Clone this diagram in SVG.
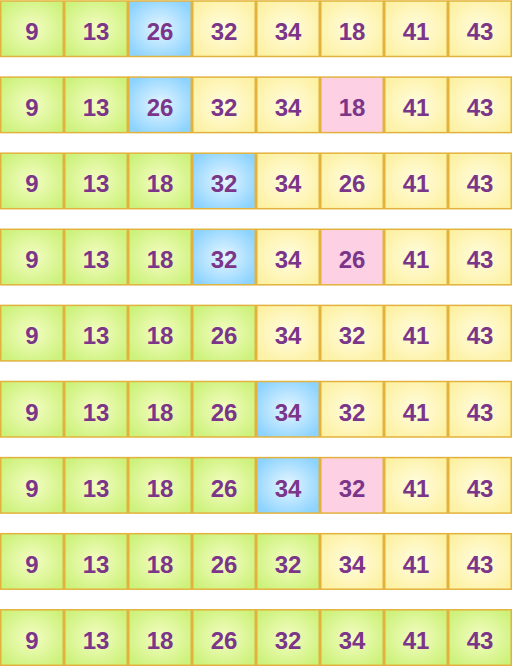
<svg xmlns="http://www.w3.org/2000/svg" width="512" height="668" viewBox="0 0 512 668">
<defs>
<radialGradient id="gg" cx="50%" cy="50%" r="60%"><stop offset="0" stop-color="#f4fdc4"/><stop offset="1" stop-color="#cdf27c"/></radialGradient>
<radialGradient id="gy" cx="50%" cy="50%" r="60%"><stop offset="0" stop-color="#fffde0"/><stop offset="1" stop-color="#fdf1a4"/></radialGradient>
<radialGradient id="gb" cx="50%" cy="50%" r="60%"><stop offset="0" stop-color="#e6f6ff"/><stop offset="1" stop-color="#8cd3ff"/></radialGradient>
<style>
rect{stroke:#e2b23c;stroke-width:1.5}
.g rect{fill:url(#gg)}
.y rect{fill:url(#gy)}
.b rect{fill:url(#gb)}
.p rect{fill:#fdd0e4}
text{font-family:"Liberation Sans",Arial,sans-serif;font-weight:bold;font-size:24px;fill:#7b3589;text-anchor:middle}
</style>
</defs>
<g id="r1" transform="translate(0,1)">
<g id="r1c1" class="g"><rect x="0.75" y="0" width="62.5" height="55.5"/><text x="32" y="39">9</text></g>
<g id="r1c2" class="g"><rect x="64.75" y="0" width="62.5" height="55.5"/><text x="96" y="39">13</text></g>
<g id="r1c3" class="b"><rect x="128.75" y="0" width="62.5" height="55.5"/><text x="160" y="39">26</text></g>
<g id="r1c4" class="y"><rect x="192.75" y="0" width="62.5" height="55.5"/><text x="224" y="39">32</text></g>
<g id="r1c5" class="y"><rect x="256.75" y="0" width="62.5" height="55.5"/><text x="288" y="39">34</text></g>
<g id="r1c6" class="y"><rect x="320.75" y="0" width="62.5" height="55.5"/><text x="352" y="39">18</text></g>
<g id="r1c7" class="y"><rect x="384.75" y="0" width="62.5" height="55.5"/><text x="416" y="39">41</text></g>
<g id="r1c8" class="y"><rect x="448.75" y="0" width="62.5" height="55.5"/><text x="480" y="39">43</text></g>
</g>
<g id="r2" transform="translate(0,77.1)">
<g id="r2c1" class="g"><rect x="0.75" y="0" width="62.5" height="55.5"/><text x="32" y="39">9</text></g>
<g id="r2c2" class="g"><rect x="64.75" y="0" width="62.5" height="55.5"/><text x="96" y="39">13</text></g>
<g id="r2c3" class="b"><rect x="128.75" y="0" width="62.5" height="55.5"/><text x="160" y="39">26</text></g>
<g id="r2c4" class="y"><rect x="192.75" y="0" width="62.5" height="55.5"/><text x="224" y="39">32</text></g>
<g id="r2c5" class="y"><rect x="256.75" y="0" width="62.5" height="55.5"/><text x="288" y="39">34</text></g>
<g id="r2c6" class="p"><rect x="320.75" y="0" width="62.5" height="55.5"/><text x="352" y="39">18</text></g>
<g id="r2c7" class="y"><rect x="384.75" y="0" width="62.5" height="55.5"/><text x="416" y="39">41</text></g>
<g id="r2c8" class="y"><rect x="448.75" y="0" width="62.5" height="55.5"/><text x="480" y="39">43</text></g>
</g>
<g id="r3" transform="translate(0,153.2)">
<g id="r3c1" class="g"><rect x="0.75" y="0" width="62.5" height="55.5"/><text x="32" y="39">9</text></g>
<g id="r3c2" class="g"><rect x="64.75" y="0" width="62.5" height="55.5"/><text x="96" y="39">13</text></g>
<g id="r3c3" class="g"><rect x="128.75" y="0" width="62.5" height="55.5"/><text x="160" y="39">18</text></g>
<g id="r3c4" class="b"><rect x="192.75" y="0" width="62.5" height="55.5"/><text x="224" y="39">32</text></g>
<g id="r3c5" class="y"><rect x="256.75" y="0" width="62.5" height="55.5"/><text x="288" y="39">34</text></g>
<g id="r3c6" class="y"><rect x="320.75" y="0" width="62.5" height="55.5"/><text x="352" y="39">26</text></g>
<g id="r3c7" class="y"><rect x="384.75" y="0" width="62.5" height="55.5"/><text x="416" y="39">41</text></g>
<g id="r3c8" class="y"><rect x="448.75" y="0" width="62.5" height="55.5"/><text x="480" y="39">43</text></g>
</g>
<g id="r4" transform="translate(0,229.3)">
<g id="r4c1" class="g"><rect x="0.75" y="0" width="62.5" height="55.5"/><text x="32" y="39">9</text></g>
<g id="r4c2" class="g"><rect x="64.75" y="0" width="62.5" height="55.5"/><text x="96" y="39">13</text></g>
<g id="r4c3" class="g"><rect x="128.75" y="0" width="62.5" height="55.5"/><text x="160" y="39">18</text></g>
<g id="r4c4" class="b"><rect x="192.75" y="0" width="62.5" height="55.5"/><text x="224" y="39">32</text></g>
<g id="r4c5" class="y"><rect x="256.75" y="0" width="62.5" height="55.5"/><text x="288" y="39">34</text></g>
<g id="r4c6" class="p"><rect x="320.75" y="0" width="62.5" height="55.5"/><text x="352" y="39">26</text></g>
<g id="r4c7" class="y"><rect x="384.75" y="0" width="62.5" height="55.5"/><text x="416" y="39">41</text></g>
<g id="r4c8" class="y"><rect x="448.75" y="0" width="62.5" height="55.5"/><text x="480" y="39">43</text></g>
</g>
<g id="r5" transform="translate(0,305.4)">
<g id="r5c1" class="g"><rect x="0.75" y="0" width="62.5" height="55.5"/><text x="32" y="39">9</text></g>
<g id="r5c2" class="g"><rect x="64.75" y="0" width="62.5" height="55.5"/><text x="96" y="39">13</text></g>
<g id="r5c3" class="g"><rect x="128.75" y="0" width="62.5" height="55.5"/><text x="160" y="39">18</text></g>
<g id="r5c4" class="g"><rect x="192.75" y="0" width="62.5" height="55.5"/><text x="224" y="39">26</text></g>
<g id="r5c5" class="y"><rect x="256.75" y="0" width="62.5" height="55.5"/><text x="288" y="39">34</text></g>
<g id="r5c6" class="y"><rect x="320.75" y="0" width="62.5" height="55.5"/><text x="352" y="39">32</text></g>
<g id="r5c7" class="y"><rect x="384.75" y="0" width="62.5" height="55.5"/><text x="416" y="39">41</text></g>
<g id="r5c8" class="y"><rect x="448.75" y="0" width="62.5" height="55.5"/><text x="480" y="39">43</text></g>
</g>
<g id="r6" transform="translate(0,381.5)">
<g id="r6c1" class="g"><rect x="0.75" y="0" width="62.5" height="55.5"/><text x="32" y="39">9</text></g>
<g id="r6c2" class="g"><rect x="64.75" y="0" width="62.5" height="55.5"/><text x="96" y="39">13</text></g>
<g id="r6c3" class="g"><rect x="128.75" y="0" width="62.5" height="55.5"/><text x="160" y="39">18</text></g>
<g id="r6c4" class="g"><rect x="192.75" y="0" width="62.5" height="55.5"/><text x="224" y="39">26</text></g>
<g id="r6c5" class="b"><rect x="256.75" y="0" width="62.5" height="55.5"/><text x="288" y="39">34</text></g>
<g id="r6c6" class="y"><rect x="320.75" y="0" width="62.5" height="55.5"/><text x="352" y="39">32</text></g>
<g id="r6c7" class="y"><rect x="384.75" y="0" width="62.5" height="55.5"/><text x="416" y="39">41</text></g>
<g id="r6c8" class="y"><rect x="448.75" y="0" width="62.5" height="55.5"/><text x="480" y="39">43</text></g>
</g>
<g id="r7" transform="translate(0,457.6)">
<g id="r7c1" class="g"><rect x="0.75" y="0" width="62.5" height="55.5"/><text x="32" y="39">9</text></g>
<g id="r7c2" class="g"><rect x="64.75" y="0" width="62.5" height="55.5"/><text x="96" y="39">13</text></g>
<g id="r7c3" class="g"><rect x="128.75" y="0" width="62.5" height="55.5"/><text x="160" y="39">18</text></g>
<g id="r7c4" class="g"><rect x="192.75" y="0" width="62.5" height="55.5"/><text x="224" y="39">26</text></g>
<g id="r7c5" class="b"><rect x="256.75" y="0" width="62.5" height="55.5"/><text x="288" y="39">34</text></g>
<g id="r7c6" class="p"><rect x="320.75" y="0" width="62.5" height="55.5"/><text x="352" y="39">32</text></g>
<g id="r7c7" class="y"><rect x="384.75" y="0" width="62.5" height="55.5"/><text x="416" y="39">41</text></g>
<g id="r7c8" class="y"><rect x="448.75" y="0" width="62.5" height="55.5"/><text x="480" y="39">43</text></g>
</g>
<g id="r8" transform="translate(0,533.7)">
<g id="r8c1" class="g"><rect x="0.75" y="0" width="62.5" height="55.5"/><text x="32" y="39">9</text></g>
<g id="r8c2" class="g"><rect x="64.75" y="0" width="62.5" height="55.5"/><text x="96" y="39">13</text></g>
<g id="r8c3" class="g"><rect x="128.75" y="0" width="62.5" height="55.5"/><text x="160" y="39">18</text></g>
<g id="r8c4" class="g"><rect x="192.75" y="0" width="62.5" height="55.5"/><text x="224" y="39">26</text></g>
<g id="r8c5" class="g"><rect x="256.75" y="0" width="62.5" height="55.5"/><text x="288" y="39">32</text></g>
<g id="r8c6" class="y"><rect x="320.75" y="0" width="62.5" height="55.5"/><text x="352" y="39">34</text></g>
<g id="r8c7" class="y"><rect x="384.75" y="0" width="62.5" height="55.5"/><text x="416" y="39">41</text></g>
<g id="r8c8" class="y"><rect x="448.75" y="0" width="62.5" height="55.5"/><text x="480" y="39">43</text></g>
</g>
<g id="r9" transform="translate(0,609.8)">
<g id="r9c1" class="g"><rect x="0.75" y="0" width="62.5" height="55.5"/><text x="32" y="39">9</text></g>
<g id="r9c2" class="g"><rect x="64.75" y="0" width="62.5" height="55.5"/><text x="96" y="39">13</text></g>
<g id="r9c3" class="g"><rect x="128.75" y="0" width="62.5" height="55.5"/><text x="160" y="39">18</text></g>
<g id="r9c4" class="g"><rect x="192.75" y="0" width="62.5" height="55.5"/><text x="224" y="39">26</text></g>
<g id="r9c5" class="g"><rect x="256.75" y="0" width="62.5" height="55.5"/><text x="288" y="39">32</text></g>
<g id="r9c6" class="g"><rect x="320.75" y="0" width="62.5" height="55.5"/><text x="352" y="39">34</text></g>
<g id="r9c7" class="g"><rect x="384.75" y="0" width="62.5" height="55.5"/><text x="416" y="39">41</text></g>
<g id="r9c8" class="g"><rect x="448.75" y="0" width="62.5" height="55.5"/><text x="480" y="39">43</text></g>
</g>
<g id="connectors"/>
</svg>
